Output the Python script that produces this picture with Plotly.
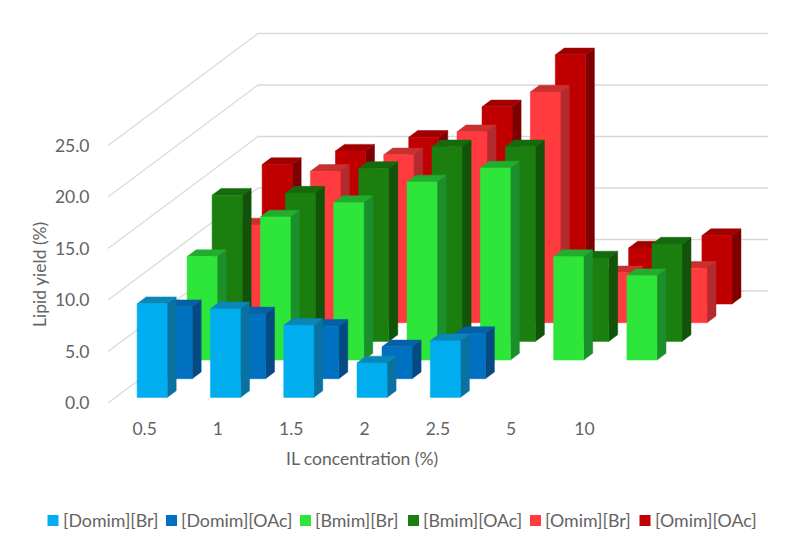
# plot.py - 3D-look clustered columns drawn with an oblique projection on plain axes
import plotly.graph_objects as go

# --- data ---
CONCENTRATIONS = ["0.5", "1", "1.5", "2", "2.5", "5", "10"]
SERIES = ["[Domim][Br]", "[Domim][OAc]", "[Bmim][Br]", "[Bmim][OAc]", "[Omim][Br]", "[Omim][OAc]"]
YIELD_TICKS = [0, 5, 10, 15, 20, 25]

domim_br = [9.1, 8.6, 7.0, 3.35, 5.5, 0, 0]
domim_oac = [7.0, 6.3, 5.1, 3.1, 4.4, 0, 0]
bmim_br = [10.05, 13.9, 15.3, 17.3, 18.65, 10.05, 8.2]
bmim_oac = [14.2, 14.4, 16.8, 18.9, 18.9, 8.1, 9.45]
omim_br = [9.5, 14.7, 16.3, 18.55, 22.4, 4.85, 5.3]
omim_oac = [13.55, 14.85, 16.2, 19.15, 24.2, 5.45, 6.65]
VALUES = [domim_br, domim_oac, bmim_br, bmim_oac, omim_br, omim_oac]

# (front, side, top) for each series
COLORS = [
    ("#00ADEF", "#0A72A0", "#0A86B8"),
    ("#0070C0", "#064A84", "#0560A6"),
    ("#2EE63A", "#1A8F2C", "#22AD30"),
    ("#1B7F10", "#115309", "#146A0C"),
    ("#FF3B3F", "#B32B2E", "#C9302F"),
    ("#C00000", "#7F0000", "#A00000"),
]
TEXT = "#636363"
GRID = "#D9D9D9"
FONT = "Lato"

# --- page: the browser keeps an 8px body margin round the figure ---
OFF = 8
W, H = 794 - 2 * OFF, 549 - 2 * OFF
LEFT, RIGHT, TOP, BOTTOM = 108 - OFF, 768 - OFF, 28 - OFF, 403 - OFF

# --- projection: one unit of depth (whole floor) moves this far in axis units ---
X_MAX = (RIGHT - LEFT) / 73.3
Y_MAX = (BOTTOM - TOP) / 10.3
DEPTH_X = 150 / 73.3
DEPTH_Y = 112 / 10.3
BAR_W = 0.41
BAR_D = 0.36  # of one row
GAP_D = 0.3


def proj(x, value, depth):
    return x + depth * DEPTH_X, value + depth * DEPTH_Y


def faces(i, row, v):
    x0 = i + (1 - BAR_W) / 2
    x1 = x0 + BAR_W
    d0 = (row + GAP_D) / len(SERIES)
    d1 = (row + GAP_D + BAR_D) / len(SERIES)
    front = [proj(x0, 0, d0), proj(x1, 0, d0), proj(x1, v, d0), proj(x0, v, d0)]
    side = [proj(x1, 0, d0), proj(x1, 0, d1), proj(x1, v, d1), proj(x1, v, d0)]
    top = [proj(x0, v, d0), proj(x1, v, d0), proj(x1, v, d1), proj(x0, v, d1)]
    return front, side, top


def face_trace(polys, color):
    xs, ys = [], []
    for p in polys:
        closed = p + [p[0]]
        xs += [c[0] for c in closed] + [None]
        ys += [c[1] for c in closed] + [None]
    return go.Scatter(x=xs, y=ys, mode="lines", fill="toself", fillcolor=color,
                      line=dict(color=color, width=0.5), hoverinfo="skip", showlegend=False)


fig = go.Figure()

# gridlines: along the side wall, then along the back wall
for t in YIELD_TICKS:
    a = proj(0, t, 0)
    b = proj(0, t, 1)
    c = proj(len(CONCENTRATIONS), t, 1)
    fig.add_trace(go.Scatter(x=[a[0], b[0], c[0]], y=[a[1], b[1], c[1]], mode="lines",
                             line=dict(color=GRID, width=1.3), hoverinfo="skip", showlegend=False))

# back row first so the front rows cover it
for row in range(len(SERIES) - 1, -1, -1):
    fronts, sides, tops = [], [], []
    for i, v in enumerate(VALUES[row]):
        if v <= 0:
            continue
        f, s, t = faces(i, row, v)
        fronts.append(f)
        sides.append(s)
        tops.append(t)
    fig.add_trace(face_trace(sides, COLORS[row][1]))
    fig.add_trace(face_trace(tops, COLORS[row][2]))
    fig.add_trace(face_trace(fronts, COLORS[row][0]))


def px_x(p):
    return (p - OFF - LEFT) / (RIGHT - LEFT)


def px_y(p):
    return (BOTTOM - (p - OFF)) / (BOTTOM - TOP)


# axis titles sit off the plot centre, so annotations rather than axis titles
annotations = [
    dict(text="IL concentration (%)", x=px_x(362), y=px_y(458), xref="paper", yref="paper",
         xanchor="center", yanchor="middle", showarrow=False,
         font=dict(size=17.5, color=TEXT, family=FONT)),
    dict(text="Lipid yield (%)", x=px_x(39), y=px_y(275), xref="paper", yref="paper",
         xanchor="center", yanchor="middle", textangle=-90, showarrow=False,
         font=dict(size=17.5, color=TEXT, family=FONT)),
]

# hand placed legend, the native one has too wide a swatch gap to fit one line
LEGEND_SWATCH_X = [47.5, 166, 300, 408, 530, 639.5]
shapes = []
for name, sx, col in zip(SERIES, LEGEND_SWATCH_X, COLORS):
    shapes.append(dict(type="rect", xref="paper", yref="paper", line_width=0, fillcolor=col[0],
                       x0=px_x(sx), x1=px_x(sx + 11), y0=px_y(526), y1=px_y(515)))
    annotations.append(dict(text=name, x=px_x(sx + 13), y=px_y(520), xref="paper", yref="paper",
                            xanchor="left", yanchor="middle", showarrow=False,
                            font=dict(size=17.8, color=TEXT, family=FONT)))

fig.update_layout(
    width=W, height=H, autosize=False,
    margin=dict(l=LEFT, r=W - RIGHT, t=TOP, b=H - BOTTOM, autoexpand=False),
    paper_bgcolor="white", plot_bgcolor="white",
    showlegend=False, annotations=annotations, shapes=shapes,
    font=dict(family=FONT, color=TEXT),
)
fig.update_xaxes(range=[0, X_MAX], showgrid=False, zeroline=False, showline=False,
                 tickmode="array", tickvals=[i + 0.5 for i in range(len(CONCENTRATIONS))],
                 ticktext=CONCENTRATIONS, ticks="outside", ticklen=10, tickcolor="rgba(0,0,0,0)",
                 tickfont=dict(size=17.5, color=TEXT, family=FONT))
fig.update_yaxes(range=[0, Y_MAX], showgrid=False, zeroline=False, showline=False,
                 tickmode="array", tickvals=YIELD_TICKS, ticktext=[f"{t:.1f}" for t in YIELD_TICKS],
                 ticks="outside", ticklen=14, tickcolor="rgba(0,0,0,0)",
                 tickfont=dict(size=17.5, color=TEXT, family=FONT))

fig.write_html("out.html")
